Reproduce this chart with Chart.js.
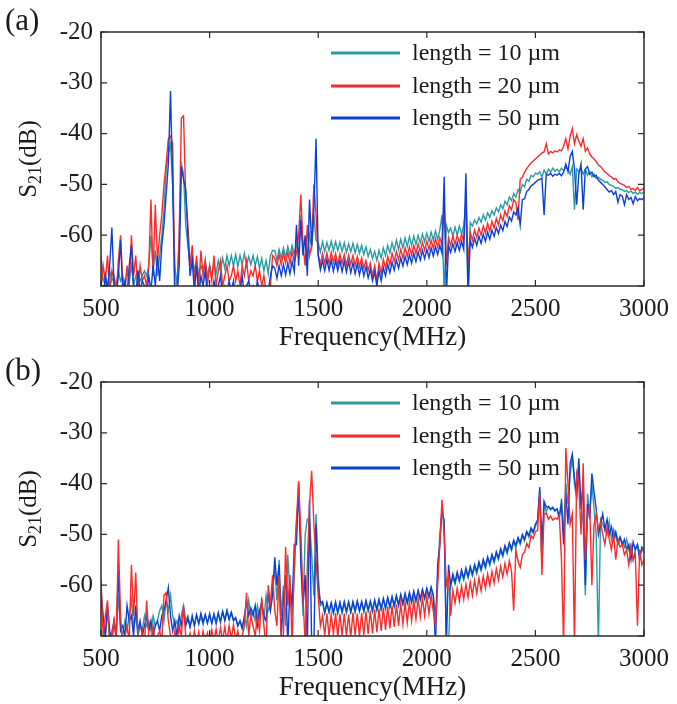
<!DOCTYPE html>
<html lang="en">
<head>
<meta charset="UTF-8">
<title>S21 vs Frequency</title>
<script src="https://cdn.jsdelivr.net/npm/chart.js"></script>
<style>
  body { margin: 0; background: #fff; }
  .panel { position: absolute; left: 0; }
</style>
</head>
<body>
<canvas id="chartA" class="panel" style="top:0" width="677" height="354"></canvas>
<canvas id="chartB" class="panel" style="top:350px" width="677" height="354"></canvas>

<script>
// ======= Data (10 MHz steps) =======
const freq = [
  500,510,520,530,540,550,560,570,580,590,
  600,610,620,630,640,650,660,670,680,690,
  700,710,720,730,740,750,760,770,780,790,
  800,810,820,830,840,850,860,870,880,890,
  900,910,920,930,940,950,960,970,980,990,
  1000,1010,1020,1030,1040,1050,1060,1070,1080,1090,
  1100,1110,1120,1130,1140,1150,1160,1170,1180,1190,
  1200,1210,1220,1230,1240,1250,1260,1270,1280,1290,
  1300,1310,1320,1330,1340,1350,1360,1370,1380,1390,
  1400,1410,1420,1430,1440,1450,1460,1470,1480,1490,
  1500,1510,1520,1530,1540,1550,1560,1570,1580,1590,
  1600,1610,1620,1630,1640,1650,1660,1670,1680,1690,
  1700,1710,1720,1730,1740,1750,1760,1770,1780,1790,
  1800,1810,1820,1830,1840,1850,1860,1870,1880,1890,
  1900,1910,1920,1930,1940,1950,1960,1970,1980,1990,
  2000,2010,2020,2030,2040,2050,2060,2070,2080,2090,
  2100,2110,2120,2130,2140,2150,2160,2170,2180,2190,
  2200,2210,2220,2230,2240,2250,2260,2270,2280,2290,
  2300,2310,2320,2330,2340,2350,2360,2370,2380,2390,
  2400,2410,2420,2430,2440,2450,2460,2470,2480,2490,
  2500,2510,2520,2530,2540,2550,2560,2570,2580,2590,
  2600,2610,2620,2630,2640,2650,2660,2670,2680,2690,
  2700,2710,2720,2730,2740,2750,2760,2770,2780,2790,
  2800,2810,2820,2830,2840,2850,2860,2870,2880,2890,
  2900,2910,2920,2930,2940,2950,2960,2970,2980,2990,
  3000
];

// panel (a)
const a10 = [
  -64,-69,-68,-70,-67,-69,-68,-70,-67,-69,
  -68,-70,-67,-69,-66,-70,-68,-67,-69,-68,
  -67,-68,-66,-60,-67,-63,-68,-64,-60,-55,
  -47,-44,-42,-50,-66,-70,-60,-46,-48,-58,
  -62,-66,-64,-67,-65,-68,-66,-67,-65,-68,
  -66,-68,-65.5,-67.5,-65,-67,-64.5,-66.5,-64,-66,
  -64,-66,-63.8,-66.2,-64,-65.8,-63.6,-66,-64.2,-65.8,
  -64,-66,-64.2,-66.5,-64.6,-67,-65,-67.5,-64,-63,
  -63,-65,-62.8,-64.5,-62.5,-64.3,-62.2,-64,-62,-63.8,
  -61.8,-63.5,-56,-62,-61.5,-64,-60,-62.5,-56,-61,
  -61.5,-63.3,-61.3,-63.2,-61.4,-63,-61.2,-63.1,-61.3,-63,
  -61.4,-63.2,-61.5,-63.4,-61.7,-63.3,-61.6,-63.5,-61.8,-63.6,
  -62,-63.8,-62.3,-64.2,-62.8,-64.6,-63.2,-65,-63,-64.5,
  -62.5,-64,-62,-63.5,-61.5,-63,-61,-62.8,-60.8,-62.5,
  -60.5,-62.2,-60.3,-62,-60.2,-61.8,-60,-61.5,-59.8,-61.3,
  -59.6,-61.2,-59.4,-61,-59.2,-60.8,-59,-56,-72,-58,
  -59.5,-58.6,-60.2,-58.4,-60,-58.2,-59.8,-58,-54,-72,
  -57.5,-58.2,-57,-57.8,-56.5,-57.4,-56,-57,-55.6,-56.5,
  -55.2,-56,-54.6,-55.4,-54,-54.8,-53.3,-54,-52.5,-53.2,
  -51.8,-52.5,-51,-51.6,-50,-50.5,-49,-49.4,-48.2,-48.5,
  -47.8,-48,-47.5,-48.5,-47.2,-48,-47,-47.6,-46.8,-47.4,
  -47,-47.5,-46.8,-47.3,-46.6,-47,-48,-46.5,-55,-47,
  -47.5,-46.8,-48,-47,-48.2,-47.5,-48.5,-48,-48.8,-48.6,
  -49,-49.2,-49.6,-49.5,-50,-50.2,-50.4,-50.8,-50.6,-51,
  -51,-51.4,-51.2,-51.6,-51.3,-51.8,-51.5,-52,-51.6,-51.8,
  -51.5
];
const a20 = [
  -70,-66,-69,-64,-71,-67,-69,-72,-65,-60,
  -69,-71,-66,-70,-60,-68,-64,-71,-66,-69,
  -68,-70,-66,-53,-68,-54,-65,-60,-56,-50,
  -46,-41,-40.5,-42,-72,-72,-60,-37,-36.5,-52,
  -58,-66,-62,-69,-64,-70,-63,-68,-65,-70,
  -66,-69,-64,-70,-67,-65,-70,-68,-66,-69,
  -68,-66,-69,-67,-70,-66,-68,-65,-69,-67,
  -68,-66,-69,-67,-70,-68,-71,-72,-70,-64,
  -64.5,-66,-63.8,-65.8,-63.5,-65.5,-63.4,-65.6,-63.2,-65.4,
  -63.5,-60,-52,-62,-66,-58,-64,-62,-50,-56,
  -63.8,-65.7,-63.6,-65.5,-63.5,-65.6,-63.4,-65.4,-63.6,-65.8,
  -63.7,-65.6,-63.8,-65.9,-63.9,-65.7,-64,-66,-64.2,-66.2,
  -64.5,-66.5,-65,-67,-65.5,-68,-66,-69,-65.5,-67.5,
  -64.8,-66.5,-64.2,-65.8,-63.6,-65.2,-63.2,-64.8,-62.8,-64.5,
  -62.5,-64.2,-62.3,-63.9,-62,-63.6,-61.7,-63.3,-61.4,-63,
  -61.2,-62.8,-61,-62.6,-60.7,-62.3,-60.5,-62,-53.7,-66,
  -60.5,-62,-60.2,-61.8,-60,-61.5,-59.8,-61.2,-52.5,-66,
  -59.5,-61,-59,-60.4,-58.6,-60,-58.2,-59.6,-57.7,-59.2,
  -57.3,-58.6,-56.7,-58,-56,-57.2,-55.2,-56.3,-54.2,-55,
  -53,-53.5,-57,-49,-48.6,-47.6,-46.9,-46.3,-45.8,-45.4,
  -45,-44.6,-44.2,-43.8,-43.6,-42,-44,-43.5,-43.8,-43.4,
  -43.6,-43.2,-43.4,-42.5,-41,-43,-40.5,-39,-42,-40.2,
  -41.5,-42.5,-41,-43.5,-42.8,-44,-44.6,-45,-45.5,-46.2,
  -46.5,-47,-47.6,-47.8,-48.3,-48.5,-49,-48.8,-49.5,-49.8,
  -50,-50.2,-50.6,-50.4,-51,-50.8,-51.2,-50.6,-51.3,-51,
  -50.8
];
const a50 = [
  -70,-72,-68,-71,-66,-58.5,-70,-72,-68,-61,
  -71,-69,-72,-66,-62,-70,-72,-67,-71,-69,
  -70,-72,-68,-71,-66,-70,-64,-69,-62,-58,
  -52,-46,-31.6,-50,-72,-72,-66,-46.5,-49,-51,
  -60,-68,-65,-71,-66,-72,-68,-70,-67,-72,
  -70,-72,-69,-71,-70,-68,-72,-70,-71,-69,
  -71,-69,-72,-70,-71,-68,-72,-70,-69,-71,
  -70,-72,-69,-71,-72,-70,-72,-71,-68,-66,
  -66.5,-68.5,-66,-68,-65.8,-67.8,-65.5,-67.6,-65.2,-67.2,
  -58,-66,-57,-64,-60,-68,-53,-62,-55,-41,
  -64,-66.8,-65,-67,-64.8,-66.9,-64.9,-67.1,-65,-67,
  -65,-67.2,-65.1,-67.3,-65.2,-67.4,-65.4,-67.6,-65.6,-67.8,
  -65.8,-68,-66.2,-68.4,-66.7,-69,-67.2,-70,-67,-69,
  -66.4,-68,-65.8,-67.4,-65.3,-66.9,-64.9,-66.5,-64.5,-66.1,
  -64.2,-65.8,-63.9,-65.5,-63.6,-65.2,-63.3,-64.9,-63,-64.6,
  -62.8,-64.4,-62.5,-64.1,-62.3,-63.8,-62,-63.6,-48.5,-72,
  -62,-63.4,-61.7,-63.2,-61.5,-63,-61.2,-62.8,-47.8,-72,
  -61,-62.4,-60.6,-62,-60.2,-61.6,-59.8,-61.2,-59.4,-60.8,
  -59,-60.2,-58.5,-59.7,-58,-59.1,-57.3,-58.3,-56.4,-57.2,
  -55.4,-56,-54.6,-58,-53,-52.8,-51.4,-51,-50.3,-50,
  -49.6,-49.2,-49,-48.8,-56,-48,-48.2,-47.8,-48.4,-48,
  -48.2,-47.8,-48.3,-47.6,-46,-47.5,-44.5,-43.5,-47,-54,
  -48,-46,-55,-47,-46.5,-48,-47.6,-48.5,-48.2,-49.2,
  -49.6,-50,-50.5,-51,-51.5,-51.2,-52,-51.4,-53.5,-52,
  -52.3,-54,-52,-53,-52.6,-53.8,-52.4,-53.2,-52.8,-53,
  -52.6
];

// panel (b)
const b10 = [
  -60,-68,-70,-65,-71,-69,-67,-70,-62,-68,
  -70,-67,-69,-66,-63,-68,-66,-70,-68,-69,
  -66,-68,-67,-69,-66,-68,-67,-65,-64,-67,
  -63,-65,-62,-66,-68,-67,-69,-66,-64,-67,
  -66,-68,-66.5,-67.8,-66,-67.5,-66.2,-67.8,-65.8,-67.4,
  -66,-67.6,-65.6,-67.2,-65.4,-67,-65.2,-66.8,-65,-66.6,
  -65.3,-66.8,-66.5,-68,-67,-68.5,-66,-68,-63,-66,
  -65,-67,-64,-66.5,-63,-67,-62,-65,-64,-60,
  -57,-63,-55,-66,-60,-68,-54,-62,-66,-58,
  -48,-42,-52,-66,-50,-47,-47.5,-54,-62,-46,
  -58,-64,-63.5,-65.5,-63.6,-65.4,-63.5,-65.5,-63.6,-65.6,
  -63.5,-65.5,-63.6,-65.5,-63.4,-65.3,-63.5,-65.4,-63.3,-65.2,
  -63.4,-65.3,-63.3,-65.2,-63.4,-65.3,-63.2,-65.1,-63,-64.9,
  -62.8,-64.7,-62.6,-64.5,-62.5,-64.3,-62.3,-64.1,-62.1,-63.9,
  -62,-63.7,-61.8,-63.5,-61.6,-63.3,-61.3,-63,-61,-62.7,
  -60.8,-62.5,-60.6,-62.2,-66,-58,-50,-46,-47,-72,
  -72,-60,-58.5,-59.8,-58,-59.4,-57.6,-59,-57.2,-58.6,
  -56.8,-58.2,-56.4,-57.8,-55.9,-57.2,-55.4,-56.7,-54.8,-56.1,
  -54.3,-55.6,-53.8,-55,-53.2,-54.4,-52.6,-53.8,-52,-53.2,
  -51.5,-52.6,-50.9,-52,-50.3,-51.3,-49.6,-50.6,-49,-49.8,
  -48.4,-47.5,-41.5,-56,-44,-45.5,-44.5,-45.2,-44.6,-45.3,
  -45,-47,-43,-50,-40,-44,-38,-35,-40,-43,
  -37.5,-44,-48,-62,-42,-46,-40,-45,-50,-72,
  -47,-48,-49,-50,-47.5,-51,-49,-50.5,-52,-51,
  -51.5,-52.5,-51,-53,-52,-55,-53,-52,-54,-53,
  -53.5
];
const b20 = [
  -59,-70,-66,-63,-72,-70,-67,-71,-51,-66,
  -72,-70,-68,-71,-56,-66,-57.5,-70,-72,-69,
  -72,-63,-70,-71,-68,-72,-70,-69,-71,-62,
  -61.5,-67,-70,-72,-69,-71,-68,-70,-64,-70,
  -71,-69.5,-72,-69,-71.5,-69.2,-72,-69,-71,-69.4,
  -71.5,-68.8,-71,-68.6,-71.2,-68.4,-70.8,-68.2,-71,-68,
  -70.5,-67.8,-70.8,-69,-72,-70,-68,-61.5,-70,-66,
  -68,-70,-66,-69,-62.5,-68,-72,-60,-64,-58,
  -65,-68,-58,-72,-70,-52.5,-64,-58,-72,-55,
  -47,-39.5,-50,-62,-72,-56,-44,-37.5,-48,-55,
  -62,-68,-66,-69.8,-65.6,-70,-65.8,-69.6,-65.5,-70.2,
  -65.7,-69.8,-65.6,-70,-65.8,-70.2,-65.4,-69.9,-65.6,-70,
  -65.5,-69.8,-65.2,-69.6,-65,-69.5,-64.8,-69.3,-64.6,-69,
  -64.4,-68.8,-64.2,-68.5,-64,-68.2,-63.8,-68,-63.6,-67.7,
  -63.4,-67.4,-63.2,-67,-63,-66.7,-62.7,-66.3,-62.4,-66,
  -62.2,-65.6,-62,-65.2,-68,-60,-52,-43.2,-50,-60,
  -58,-66,-61,-63.5,-60.6,-63.2,-60.2,-62.8,-59.8,-62.4,
  -59.4,-62,-59,-61.6,-58.6,-61.1,-58.2,-60.6,-57.8,-60.1,
  -57.3,-59.6,-56.8,-59,-56.3,-58.4,-55.7,-57.8,-55.2,-57.2,
  -65,-53,-55.3,-56.5,-54,-53.5,-51.8,-52.6,-50.2,-50.8,
  -49.5,-49.2,-42,-58,-46,-45.8,-47,-46.4,-47.2,-46.8,
  -47,-46.2,-55,-72,-33,-40,-48,-46,-72,-38,
  -40,-50,-36,-55,-46,-44.5,-60,-48,-46,-49,
  -47.5,-50,-52,-48.5,-51,-53,-50,-55,-51,-52.5,
  -52,-54,-53,-56,-52.5,-55,-54,-68,-53,-56,
  -55
];
const b50 = [
  -62,-66,-70,-64,-69,-71,-67,-70,-57,-69,
  -68,-70,-64,-67,-66,-70,-64,-69,-67,-70,
  -68,-66,-69,-67,-70,-68,-67,-69,-66,-65,
  -63,-60.5,-66,-69,-67,-70,-66,-68,-65,-68,
  -66.5,-68.3,-66,-68,-65.8,-67.6,-65.5,-67.3,-65.8,-67.5,
  -65.6,-67.4,-65.8,-67.6,-65.5,-67.3,-65.2,-67,-65,-66.8,
  -65.4,-67,-66.4,-68,-67,-68.5,-66.4,-63,-66,-64.5,
  -66,-64,-68,-65,-63.5,-66,-67,-61.5,-65,-62,
  -54.5,-60,-56,-70,-63,-58,-72,-60,-64,-52,
  -52,-40,-56,-64,-58,-72,-43.2,-72,-72,-48,
  -60,-63.5,-63.2,-65.4,-63.4,-65.2,-63.5,-65.4,-63.3,-65.3,
  -63.4,-65.2,-63.2,-65.1,-63.3,-65.3,-63.2,-65,-63.1,-65,
  -63.2,-65,-63,-64.8,-63.1,-64.9,-62.9,-64.7,-62.8,-64.6,
  -62.6,-64.4,-62.4,-64.2,-62.2,-64,-62,-63.8,-61.8,-63.6,
  -61.6,-63.4,-61.4,-63.2,-61.2,-63,-61,-62.7,-60.8,-62.5,
  -60.6,-62.2,-60.4,-62,-72,-56,-52,-44.5,-48,-72,
  -56,-60,-57.8,-59.4,-57.4,-59,-57,-58.6,-56.6,-58.2,
  -56.3,-57.8,-55.9,-57.3,-55.4,-56.8,-54.9,-56.3,-54.4,-55.7,
  -53.9,-55.2,-53.4,-54.6,-52.8,-54,-52.2,-53.4,-51.6,-52.8,
  -51.1,-52.2,-50.6,-51.6,-50,-51,-49.4,-50.2,-48.7,-49.5,
  -48,-47.2,-40.7,-52,-43.5,-44.6,-44.5,-45,-44.8,-45.4,
  -45,-46.5,-44,-52,-42,-48,-36,-34.2,-39,-42,
  -35,-45,-40,-60,-44,-47,-38,-41.6,-45,-50,
  -48,-46,-49,-47,-50,-48.5,-51,-49.5,-51.5,-50.5,
  -52,-51,-53,-52,-55,-51.5,-53,-52,-55,-52.5,
  -53
];

const seriesNames = ['length = 10 \u00b5m', 'length = 20 \u00b5m', 'length = 50 \u00b5m'];
const xTicks = [500, 1000, 1500, 2000, 2500, 3000];
const yTicks = [-20, -30, -40, -50, -60, -70];

// ======= Estilo =======
const FONT = '"Liberation Serif", "Times New Roman", serif';
const TEXT = '#1a1a1a';
const AXIS = '#2b2b2b';
const colors = ['#2a9ba3', '#f92b2b', '#0b3fd6'];

// marco, ticks hacia dentro, etiqueta (a)/(b), titulo Y con subindice y leyenda
const framePlugin = {
    id: 'frame',
    afterDraw(chart, args, opts) {
        const { ctx, chartArea: a, scales: { x, y } } = chart;
        ctx.save();

        ctx.strokeStyle = AXIS;
        ctx.lineWidth = 1.5;
        ctx.strokeRect(a.left, a.top, a.right - a.left, a.bottom - a.top);

        ctx.lineWidth = 1.2;
        ctx.beginPath();
        xTicks.forEach(v => {
            const px = x.getPixelForValue(v);
            ctx.moveTo(px, a.bottom); ctx.lineTo(px, a.bottom - 6);
            ctx.moveTo(px, a.top); ctx.lineTo(px, a.top + 6);
        });
        yTicks.forEach(v => {
            const py = y.getPixelForValue(v);
            ctx.moveTo(a.left, py); ctx.lineTo(a.left + 6, py);
            ctx.moveTo(a.right, py); ctx.lineTo(a.right - 6, py);
        });
        ctx.stroke();

        ctx.fillStyle = TEXT;
        ctx.textBaseline = 'middle';
        ctx.textAlign = 'left';
        ctx.font = '31px ' + FONT;
        ctx.fillText(opts.label, 5, 22);

        // S21(dB)
        ctx.save();
        ctx.translate(29, (a.top + a.bottom) / 2);
        ctx.rotate(-Math.PI / 2);
        ctx.font = '25px ' + FONT;
        const wS = ctx.measureText('S').width;
        const wD = ctx.measureText('(dB)').width;
        ctx.font = '18px ' + FONT;
        const w21 = ctx.measureText('21').width;
        let sx = -(wS + w21 + wD) / 2;
        ctx.font = '25px ' + FONT;
        ctx.fillText('S', sx, 0);
        ctx.font = '18px ' + FONT;
        ctx.fillText('21', sx + wS, 7);
        ctx.font = '25px ' + FONT;
        ctx.fillText('(dB)', sx + wS + w21, 0);
        ctx.restore();

        // leyenda
        ctx.font = '24px ' + FONT;
        const rows = [53, 86, 118];
        seriesNames.forEach((name, i) => {
            ctx.strokeStyle = colors[i];
            ctx.lineWidth = 3;
            ctx.beginPath();
            ctx.moveTo(331, rows[i]);
            ctx.lineTo(400, rows[i]);
            ctx.stroke();
            ctx.fillStyle = TEXT;
            ctx.fillText(name, 412, rows[i] + 1);
        });

        ctx.restore();
    }
};

function crearDataset(label, values, color, order) {
    return {
        label: label,
        data: freq.map((f, i) => ({ x: f, y: values[i] })),
        borderColor: color,
        borderWidth: 1.4,
        pointRadius: 0,
        tension: 0,
        fill: false,
        order: order
    };
}

function crearGrafico(id, panel, series, orders) {
    return new Chart(document.getElementById(id), {
        type: 'line',
        data: {
            datasets: series.map((s, i) => crearDataset(seriesNames[i], s, colors[i], orders[i]))
        },
        options: {
            responsive: false,
            animation: false,
            devicePixelRatio: 1,
            layout: { padding: { left: 0, right: 29, top: 32, bottom: 0 } },
            plugins: {
                legend: { display: false },
                tooltip: { enabled: false },
                frame: { label: panel }
            },
            scales: {
                x: {
                    type: 'linear',
                    min: 500,
                    max: 3000,
                    afterBuildTicks: s => { s.ticks = xTicks.map(v => ({ value: v })); },
                    afterFit: s => { s.height = 68; },
                    grid: { display: false, drawTicks: false },
                    border: { display: false },
                    ticks: {
                        font: { family: FONT, size: 25 },
                        color: TEXT,
                        padding: 8,
                        maxRotation: 0,
                        callback: v => String(v)
                    },
                    title: {
                        display: true,
                        text: 'Frequency(MHz)',
                        font: { family: FONT, size: 27 },
                        color: TEXT,
                        padding: { top: 0, bottom: 0 }
                    }
                },
                y: {
                    min: -70,
                    max: -20,
                    afterBuildTicks: s => { s.ticks = yTicks.map(v => ({ value: v })); },
                    afterFit: s => { s.width = 101; },
                    grid: { display: false, drawTicks: false },
                    border: { display: false },
                    ticks: {
                        font: { family: FONT, size: 25 },
                        color: TEXT,
                        padding: 8,
                        callback: v => (v === -70 ? '' : String(v))
                    }
                }
            }
        },
        plugins: [framePlugin]
    });
}

// (a): azul encima, luego rojo, verde-azulado debajo
crearGrafico('chartA', '(a)', [a10, a20, a50], [2, 1, 0]);
// (b): rojo encima
crearGrafico('chartB', '(b)', [b10, b20, b50], [2, 0, 1]);
</script>
</body>
</html>
